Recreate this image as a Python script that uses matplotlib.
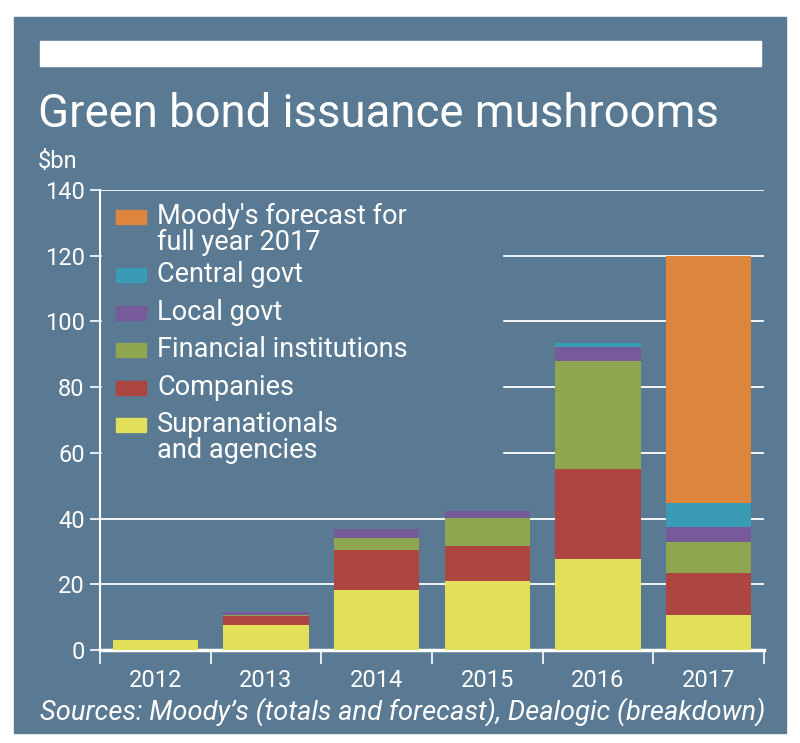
import matplotlib.pyplot as plt
from matplotlib.patches import Rectangle
import numpy as np

years = ["2012", "2013", "2014", "2015", "2016", "2017"]

supranationals = [3.0, 7.5, 18.4, 20.9, 27.8, 10.6]
companies = [0.0, 2.8, 11.9, 10.7, 27.3, 12.8]
financial = [0.0, 0.5, 3.9, 8.6, 33.0, 9.4]
local_govt = [0.0, 0.7, 2.7, 2.2, 4.0, 4.6]
central_govt = [0.0, 0.0, 0.0, 0.0, 1.4, 7.2]
forecast = [0.0, 0.0, 0.0, 0.0, 0.0, 75.4]

series = [supranationals, companies, financial, local_govt, central_govt, forecast]
colors = ["#e2df5b", "#ad4541", "#8ea64f", "#765a9a", "#3a9bb4", "#de853d"]

legend_labels = [
    "Moody's forecast for\nfull year 2017",
    "Central govt",
    "Local govt",
    "Financial institutions",
    "Companies",
    "Supranationals\nand agencies",
]
legend_colors = colors[::-1]

panel = "#5a7993"
plt.rcParams["font.family"] = ["Roboto", "DejaVu Sans"]

fig = plt.figure(figsize=(8, 7.43), dpi=100)
fig.patch.set_facecolor("white")
W, H = 800, 743


def fx(px):
    return px / W


def fy(py):
    return 1 - py / H


# background panel and the white strip on top
fig.patches.append(Rectangle((fx(14), fy(733)), fx(772), (733 - 17) / H,
                             transform=fig.transFigure, color=panel, zorder=-2))
fig.patches.append(Rectangle((fx(40), fy(66)), fx(721), 25 / H,
                             transform=fig.transFigure, color="white", zorder=1))

fig.text(fx(38), fy(114), "Green bond issuance mushrooms", color="white",
         fontsize=32.8, va="center", ha="left")
fig.text(fx(38), fy(162), "$bn", color="white", fontsize=17,
         va="center", ha="left")
fig.text(fx(40), fy(712), "Sources: Moody\u2019s (totals and forecast), Dealogic (breakdown)",
         color="white", fontsize=19.6, style="italic", va="center", ha="left")

ax = fig.add_axes([fx(100), fy(650), fx(664), (650 - 190) / H])
ax.set_facecolor(panel)
ax.patch.set_alpha(0)

x = np.arange(len(years))
bottom = np.zeros(len(years))
for vals, c in zip(series, colors):
    ax.bar(x, vals, 0.77, bottom=bottom, color=c, zorder=3)
    bottom += np.array(vals)

ax.set_xlim(-0.5, len(years) - 0.5)
ax.set_ylim(0, 140)
ax.set_yticks(range(0, 141, 20))
ax.yaxis.grid(True, color="white", lw=1.3, zorder=1)
ax.set_axisbelow(True)

# legend area hides the gridlines behind it
ax.add_patch(Rectangle((0.003, 45 / 140), 0.602, 92 / 140, transform=ax.transAxes,
                       color=panel, zorder=2))

ax.set_xticks(x)
ax.set_xticklabels(years)
ax.set_xticks(np.arange(-0.5, len(years), 1), minor=True)
ax.tick_params(axis="x", which="major", length=0, pad=14, labelsize=17, labelcolor="white")
ax.tick_params(axis="x", which="minor", length=10, width=1.2, color="white", direction="out")
ax.tick_params(axis="y", length=7, width=1.2, color="white", labelsize=17,
               labelcolor="white", pad=4)

for s in ["top", "right"]:
    ax.spines[s].set_visible(False)
ax.spines["left"].set_color("white")
ax.spines["left"].set_linewidth(1.5)
ax.spines["bottom"].set_color("white")
ax.spines["bottom"].set_linewidth(2.5)

# legend drawn by hand so the swatch sits on the first line
legend_y = [217, 275, 313, 350, 388, 425]
for lbl, c, py in zip(legend_labels, legend_colors, legend_y):
    fig.patches.append(Rectangle((fx(116), fy(py + 7)), fx(30), 14 / H,
                                 transform=fig.transFigure, color=c, zorder=5))
    fig.text(fx(157), fy(py - 14), lbl, color="white", fontsize=19.5, va="top",
             ha="left", linespacing=0.95, zorder=6)

fig.savefig("out.png", dpi=100, facecolor="white")
